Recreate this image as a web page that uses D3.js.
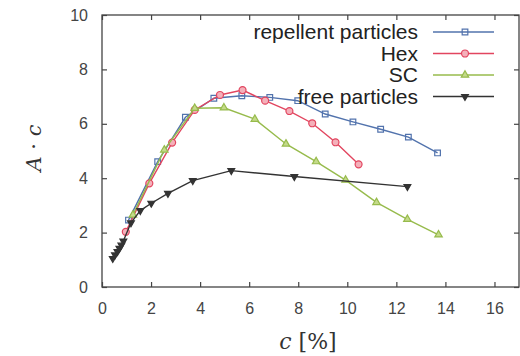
<!DOCTYPE html>
<html>
<head>
<meta charset="utf-8">
<script src="https://cdn.jsdelivr.net/npm/d3@7"></script>
<style>
body { margin: 0; background: #fff; }
svg { display: block; }
.tick text { font-family: "Liberation Sans", Arial, sans-serif; font-size: 16px; fill: #444; }
.legend text { font-family: "Liberation Sans", Arial, sans-serif; font-size: 21px; fill: #222; }
</style>
</head>
<body>
<svg width="520" height="356"></svg>
<script>
var xTicks = [0, 2, 4, 6, 8, 10, 12, 14, 16];
var yTicks = [0, 2, 4, 6, 8, 10];

var repellentC = [1.08, 2.27, 3.40, 4.56, 5.70, 6.84, 7.98, 9.10, 10.23, 11.36, 12.49, 13.68];
var repellentA = [2.46, 4.61, 6.24, 6.94, 7.03, 6.97, 6.85, 6.36, 6.07, 5.80, 5.51, 4.93];

var hexC = [0.97, 1.93, 2.86, 3.78, 4.81, 5.73, 6.65, 7.64, 8.57, 9.52, 10.46];
var hexA = [2.03, 3.81, 5.31, 6.51, 7.06, 7.24, 6.85, 6.47, 6.02, 5.32, 4.51];

var scC = [1.26, 2.54, 3.78, 4.97, 6.23, 7.50, 8.73, 9.93, 11.19, 12.45, 13.72];
var scA = [2.65, 5.04, 6.57, 6.59, 6.17, 5.26, 4.61, 3.93, 3.11, 2.49, 1.92];

var freeC = [0.44, 0.53, 0.63, 0.71, 0.79, 0.87, 1.18, 1.56, 2.01, 2.69, 3.70, 5.27, 7.84, 12.45];
var freeA = [1.05, 1.18, 1.30, 1.42, 1.54, 1.69, 2.36, 2.81, 3.08, 3.44, 3.91, 4.28, 4.06, 3.69];

var seriesNames = ['repellent particles', 'Hex', 'SC', 'free particles'];

var series = [
    { name: seriesNames[0], c: repellentC, a: repellentA, color: '#5273ad', symbol: d3.symbolSquare, fill: 'none', size: 32 },
    { name: seriesNames[1], c: hexC, a: hexA, color: '#e2455f', symbol: d3.symbolCircle, fill: '#f4b0ba', size: 38 },
    { name: seriesNames[2], c: scC, a: scA, color: '#97bb4c', symbol: d3.symbolTriangle, fill: '#c4da8a', size: 24 },
    { name: seriesNames[3], c: freeC, a: freeA, color: '#333', symbol: d3.symbolTriangle, fill: '#333', size: 20, down: true }
];

var svg = d3.select('svg');

var x = d3.scaleLinear().domain([0, 17]).range([102, 519]);
var y = d3.scaleLinear().domain([0, 10]).range([287, 15]);

// frame
svg.append('rect')
    .attr('x', x(0)).attr('y', y(10))
    .attr('width', x(17) - x(0)).attr('height', y(0) - y(10))
    .attr('fill', 'none').attr('stroke', '#444').attr('stroke-width', 1.3);

function axisStyle(g) {
    g.select('.domain').remove();
    g.selectAll('.tick line').attr('stroke', '#444').attr('stroke-width', 1.2);
}

svg.append('g')
    .attr('transform', 'translate(0,' + y(0) + ')')
    .call(d3.axisBottom(x).tickValues(xTicks).tickSize(-5).tickPadding(16))
    .call(axisStyle);

svg.append('g')
    .attr('transform', 'translate(0,' + y(10) + ')')
    .call(d3.axisTop(x).tickValues(xTicks).tickSize(-5).tickFormat(''))
    .call(axisStyle);

svg.append('g')
    .attr('transform', 'translate(' + x(0) + ',0)')
    .call(d3.axisLeft(y).tickValues(yTicks).tickSize(-5).tickPadding(14))
    .call(axisStyle);

svg.append('g')
    .attr('transform', 'translate(' + x(17) + ',0)')
    .call(d3.axisRight(y).tickValues(yTicks).tickSize(-5).tickFormat(''))
    .call(axisStyle);

var line = d3.line()
    .x(function(d){ return x(d[0]); })
    .y(function(d){ return y(d[1]); });

series.forEach(function(s) {
    var pts = s.c.map(function(c, i){ return [c, s.a[i]]; });
    svg.append('path')
        .datum(pts)
        .attr('d', line)
        .attr('fill', 'none')
        .attr('stroke', s.color)
        .attr('stroke-width', 1.4);
    svg.append('g').selectAll('path')
        .data(pts)
        .enter()
        .append('path')
        .attr('d', d3.symbol().type(s.symbol).size(s.size))
        .attr('transform', function(d){
            return 'translate(' + x(d[0]) + ',' + y(d[1]) + ')' + (s.down ? 'rotate(180)' : '');
        })
        .attr('fill', s.fill)
        .attr('stroke', s.color)
        .attr('stroke-width', 1.2);
});

// legend
var legend = svg.append('g').attr('class', 'legend');
series.forEach(function(s, i) {
    var ly = 32 + i * 21.5;
    legend.append('text')
        .attr('x', 418).attr('y', ly + 7)
        .attr('text-anchor', 'end')
        .text(s.name);
    legend.append('line')
        .attr('x1', 433).attr('x2', 494)
        .attr('y1', ly).attr('y2', ly)
        .attr('stroke', s.color).attr('stroke-width', 1.4);
    legend.append('path')
        .attr('d', d3.symbol().type(s.symbol).size(s.size))
        .attr('transform', 'translate(465,' + ly + ')' + (s.down ? 'rotate(180)' : ''))
        .attr('fill', s.fill)
        .attr('stroke', s.color)
        .attr('stroke-width', 1.2);
});

// axis labels
svg.append('text')
    .attr('transform', 'translate(41,148)rotate(-90)')
    .attr('text-anchor', 'middle')
    .style('font-family', '"DejaVu Serif", serif')
    .style('font-size', '21px')
    .style('fill', '#333')
    .html('<tspan font-style="italic">A</tspan> · <tspan font-style="italic">c</tspan>');

svg.append('text')
    .attr('x', 308).attr('y', 349)
    .attr('text-anchor', 'middle')
    .style('font-family', '"DejaVu Serif", serif')
    .style('font-size', '22px')
    .style('fill', '#333')
    .html('<tspan font-style="italic">c</tspan> [%]');
</script>
</body>
</html>
